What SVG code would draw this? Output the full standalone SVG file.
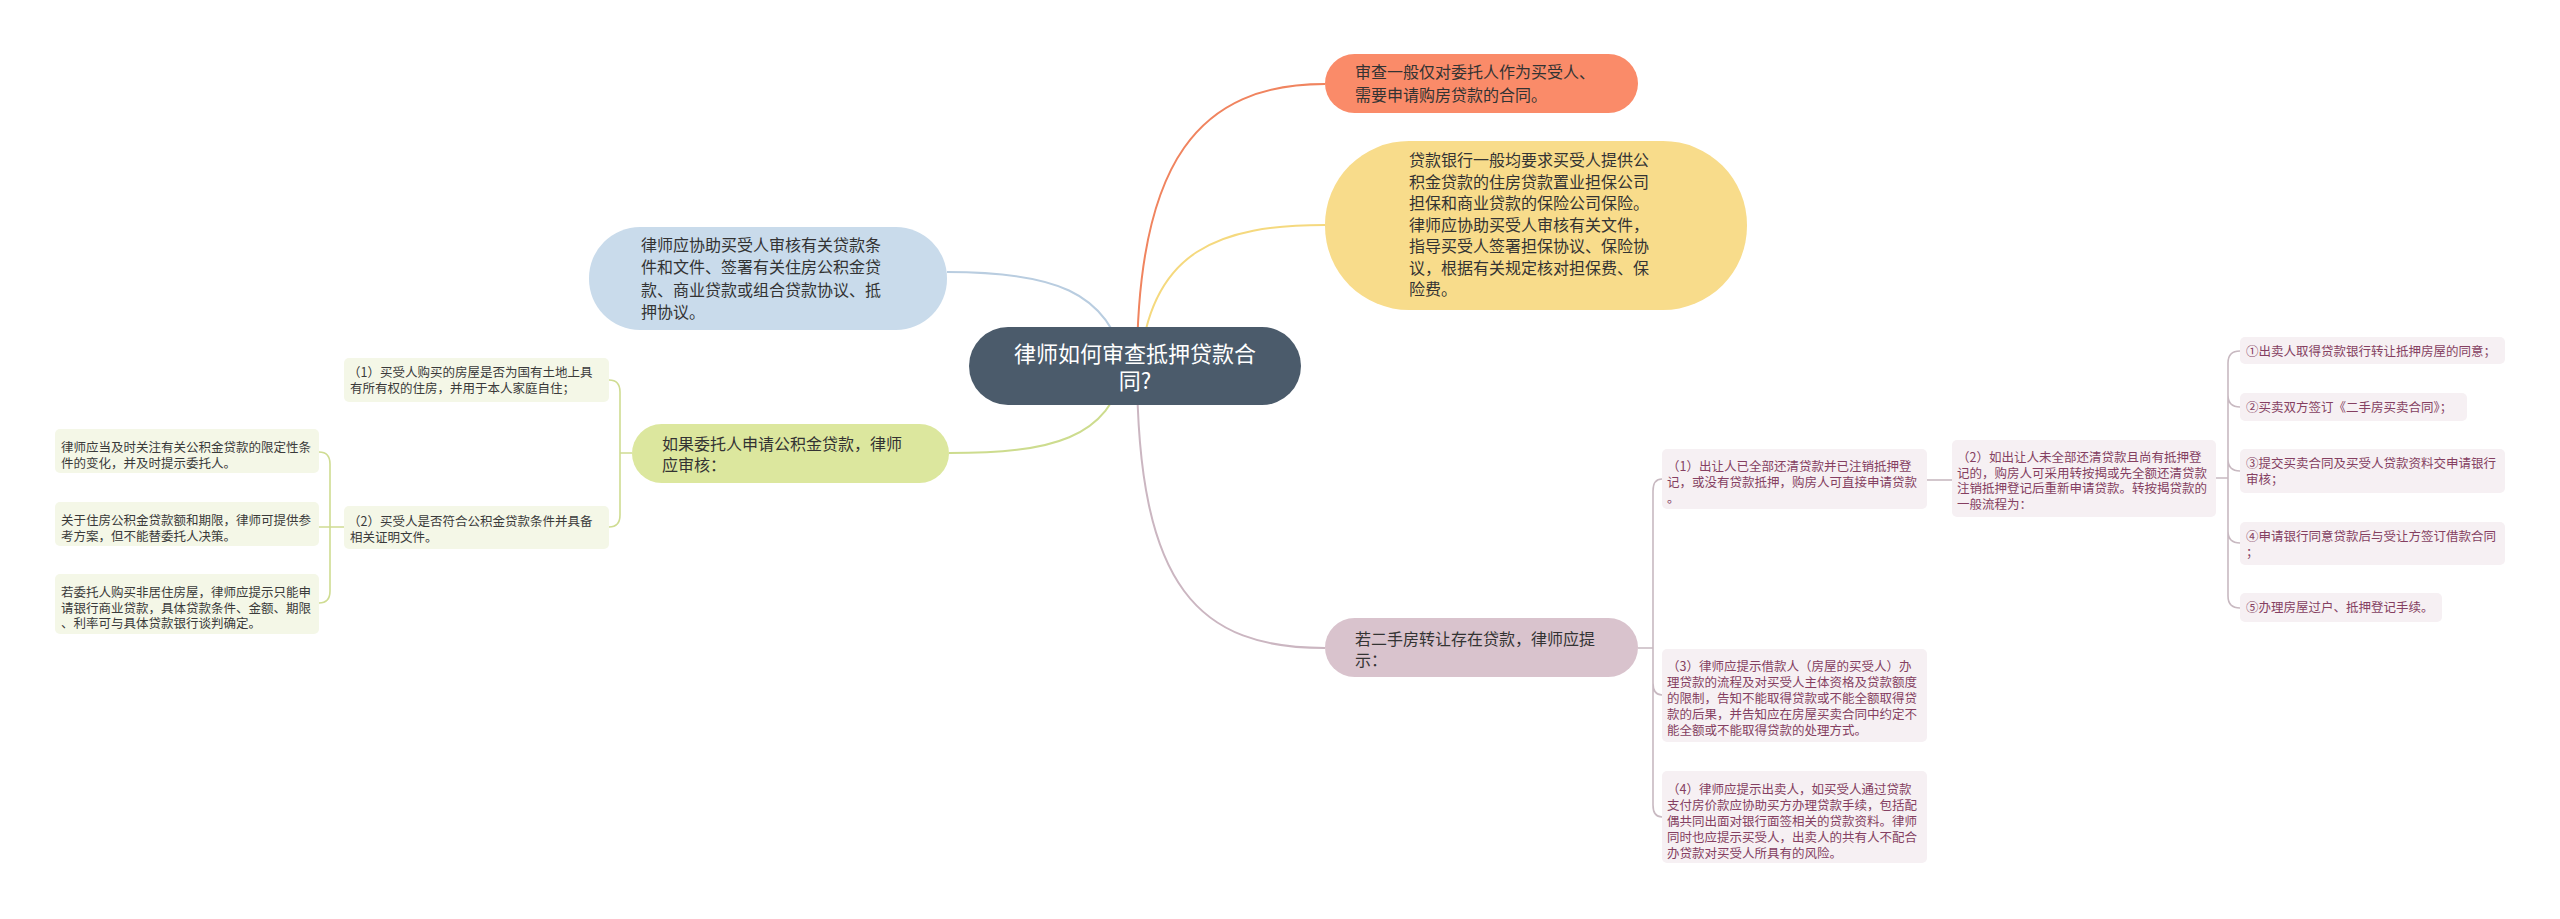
<svg xmlns="http://www.w3.org/2000/svg" width="2560" height="919" viewBox="0 0 2560 919">
<style>
text{font-family:"Noto Sans CJK SC","Noto Sans",sans-serif}
.big{font-size:16px;fill:#333}
.ctr{font-size:22px;fill:#ffffff}
.sg{font-size:12.5px;fill:#3a3a3a}
.sp{font-size:12.5px;fill:#853f61}
.bg{fill:#f4f7e7}
.bp{fill:#f6f0f3}
.cn{fill:none;stroke-width:2}
.lg{fill:none;stroke:#cfdc92;stroke-width:1.6}
.lp{fill:none;stroke:#c8b9c1;stroke-width:1.6}
</style>
<rect width="2560" height="919" fill="#ffffff"/>
<g id="connectors">
<path class="cn" stroke="#f0845f" d="M1137 366 C1137 160 1200 84 1325 84"/>
<path class="cn" stroke="#f5d97e" d="M1140 366 C1150 250 1220 225 1325 225"/>
<path class="cn" stroke="#b9cde0" d="M1125 366 C1110 290 1050 272 947 272"/>
<path class="cn" stroke="#cddc8e" d="M1125 366 C1110 440 1050 453 949 453"/>
<path class="cn" stroke="#cbb6c1" d="M1137 366 C1137 590 1200 648 1325 648"/>
<path class="lg" d="M632 453 L620 453 M609 380 Q620 380 620 392 L620 515 Q620 527 609 527"/>
<path class="lg" d="M344 527 L319 527 M319 452 Q330 452 330 464 L330 591 Q330 603 319 603"/>
<path class="lp" d="M1638 648 L1653 648 M1662 479 Q1653 479 1653 491 L1653 805 Q1653 817 1662 817 M1653 683 Q1653 695 1662 695"/>
<path class="lp" d="M1927 480 L1952 480"/>
<path class="lp" d="M2216 478 L2228 478 M2240 351 Q2228 351 2228 363 L2228 596 Q2228 608 2240 608 M2228 395 Q2228 407 2240 407 M2228 459 Q2228 471 2240 471 M2228 531 Q2228 543 2240 543"/>
</g>
<g id="center">
<rect x="969" y="327" width="332" height="78" rx="39" fill="#4b5b6b"/>
<text class="ctr" x="1135" y="362" text-anchor="middle">律师如何审查抵押贷款合</text>
<text class="ctr" x="1135" y="389" text-anchor="middle">同?</text>
</g>
<g id="n-orange">
<rect x="1325" y="54" width="313" height="59" rx="29.5" fill="#fa8b69"/>
<text class="big" x="1355" y="78">审查一般仅对委托人作为买受人、</text>
<text class="big" x="1355" y="101">需要申请购房贷款的合同。</text>
</g>
<g id="n-yellow">
<rect x="1325" y="141" width="422" height="169" rx="84" fill="#f8dc8b"/>
<text class="big" x="1409" y="166">贷款银行一般均要求买受人提供公</text>
<text class="big" x="1409" y="187.5">积金贷款的住房贷款置业担保公司</text>
<text class="big" x="1409" y="209">担保和商业贷款的保险公司保险。</text>
<text class="big" x="1409" y="230.5">律师应协助买受人审核有关文件，</text>
<text class="big" x="1409" y="252">指导买受人签署担保协议、保险协</text>
<text class="big" x="1409" y="273.5">议，根据有关规定核对担保费、保</text>
<text class="big" x="1409" y="295">险费。</text>
</g>
<g id="n-blue">
<rect x="589" y="227" width="358" height="103" rx="51" fill="#c9dbeb"/>
<text class="big" x="641" y="251">律师应协助买受人审核有关贷款条</text>
<text class="big" x="641" y="273.3">件和文件、签署有关住房公积金贷</text>
<text class="big" x="641" y="295.6">款、商业贷款或组合贷款协议、抵</text>
<text class="big" x="641" y="318">押协议。</text>
</g>
<g id="n-green">
<rect x="632" y="424" width="317" height="59" rx="29.5" fill="#dce79e"/>
<text class="big" x="662" y="450">如果委托人申请公积金贷款，律师</text>
<text class="big" x="662" y="471">应审核：</text>
</g>
<g id="g1">
<rect class="bg" x="344" y="358" width="265" height="44" rx="5"/>
<text class="sg" x="348" y="377">（1）买受人购买的房屋是否为国有土地上具</text>
<text class="sg" x="350" y="392.5">有所有权的住房，并用于本人家庭自住；</text>
</g>
<g id="g2">
<rect class="bg" x="344" y="506" width="265" height="43" rx="5"/>
<text class="sg" x="348" y="526">（2）买受人是否符合公积金贷款条件并具备</text>
<text class="sg" x="350" y="541.5">相关证明文件。</text>
</g>
<g id="gA">
<rect class="bg" x="55" y="429" width="264" height="44" rx="5"/>
<text class="sg" x="61" y="452">律师应当及时关注有关公积金贷款的限定性条</text>
<text class="sg" x="61" y="467.5">件的变化，并及时提示委托人。</text>
</g>
<g id="gB">
<rect class="bg" x="55" y="502" width="264" height="44" rx="5"/>
<text class="sg" x="61" y="525">关于住房公积金贷款额和期限，律师可提供参</text>
<text class="sg" x="61" y="540.5">考方案，但不能替委托人决策。</text>
</g>
<g id="gC">
<rect class="bg" x="55" y="574" width="264" height="60" rx="5"/>
<text class="sg" x="61" y="597">若委托人购买非居住房屋，律师应提示只能申</text>
<text class="sg" x="61" y="612.5">请银行商业贷款，具体贷款条件、金额、期限</text>
<text class="sg" x="61" y="628">、利率可与具体贷款银行谈判确定。</text>
</g>
<g id="n-pink">
<rect x="1325" y="618" width="313" height="59" rx="29.5" fill="#d9c3cd"/>
<text class="big" x="1355" y="645">若二手房转让存在贷款，律师应提</text>
<text class="big" x="1355" y="666">示：</text>
</g>
<g id="p1">
<rect class="bp" x="1662" y="449" width="265" height="60" rx="5"/>
<text class="sp" x="1667" y="471">（1）出让人已全部还清贷款并已注销抵押登</text>
<text class="sp" x="1667" y="487">记，或没有贷款抵押，购房人可直接申请贷款</text>
<text class="sp" x="1667" y="503">。</text>
</g>
<g id="p2">
<rect class="bp" x="1952" y="440" width="264" height="77" rx="5"/>
<text class="sp" x="1957" y="462">（2）如出让人未全部还清贷款且尚有抵押登</text>
<text class="sp" x="1957" y="477.5">记的，购房人可采用转按揭或先全额还清贷款</text>
<text class="sp" x="1957" y="493">注销抵押登记后重新申请贷款。转按揭贷款的</text>
<text class="sp" x="1957" y="508.5">一般流程为：</text>
</g>
<g id="s1">
<rect class="bp" x="2240" y="337" width="265" height="27" rx="5"/>
<text class="sp" x="2246" y="356">①出卖人取得贷款银行转让抵押房屋的同意；</text>
</g>
<g id="s2">
<rect class="bp" x="2240" y="393" width="227" height="28" rx="5"/>
<text class="sp" x="2246" y="412">②买卖双方签订《二手房买卖合同》；</text>
</g>
<g id="s3">
<rect class="bp" x="2240" y="449" width="265" height="44" rx="5"/>
<text class="sp" x="2246" y="468">③提交买卖合同及买受人贷款资料交申请银行</text>
<text class="sp" x="2246" y="484">审核；</text>
</g>
<g id="s4">
<rect class="bp" x="2240" y="522" width="265" height="43" rx="5"/>
<text class="sp" x="2246" y="541">④申请银行同意贷款后与受让方签订借款合同</text>
<text class="sp" x="2246" y="557">；</text>
</g>
<g id="s5">
<rect class="bp" x="2240" y="593" width="202" height="29" rx="5"/>
<text class="sp" x="2246" y="612">⑤办理房屋过户、抵押登记手续。</text>
</g>
<g id="p3">
<rect class="bp" x="1662" y="649" width="265" height="93" rx="5"/>
<text class="sp" x="1667" y="671">（3）律师应提示借款人（房屋的买受人）办</text>
<text class="sp" x="1667" y="687">理贷款的流程及对买受人主体资格及贷款额度</text>
<text class="sp" x="1667" y="703">的限制，告知不能取得贷款或不能全额取得贷</text>
<text class="sp" x="1667" y="719">款的后果，并告知应在房屋买卖合同中约定不</text>
<text class="sp" x="1667" y="735">能全额或不能取得贷款的处理方式。</text>
</g>
<g id="p4">
<rect class="bp" x="1662" y="771" width="265" height="92" rx="5"/>
<text class="sp" x="1667" y="794">（4）律师应提示出卖人，如买受人通过贷款</text>
<text class="sp" x="1667" y="810">支付房价款应协助买方办理贷款手续，包括配</text>
<text class="sp" x="1667" y="826">偶共同出面对银行面签相关的贷款资料。律师</text>
<text class="sp" x="1667" y="842">同时也应提示买受人，出卖人的共有人不配合</text>
<text class="sp" x="1667" y="857.5">办贷款对买受人所具有的风险。</text>
</g>
</svg>
